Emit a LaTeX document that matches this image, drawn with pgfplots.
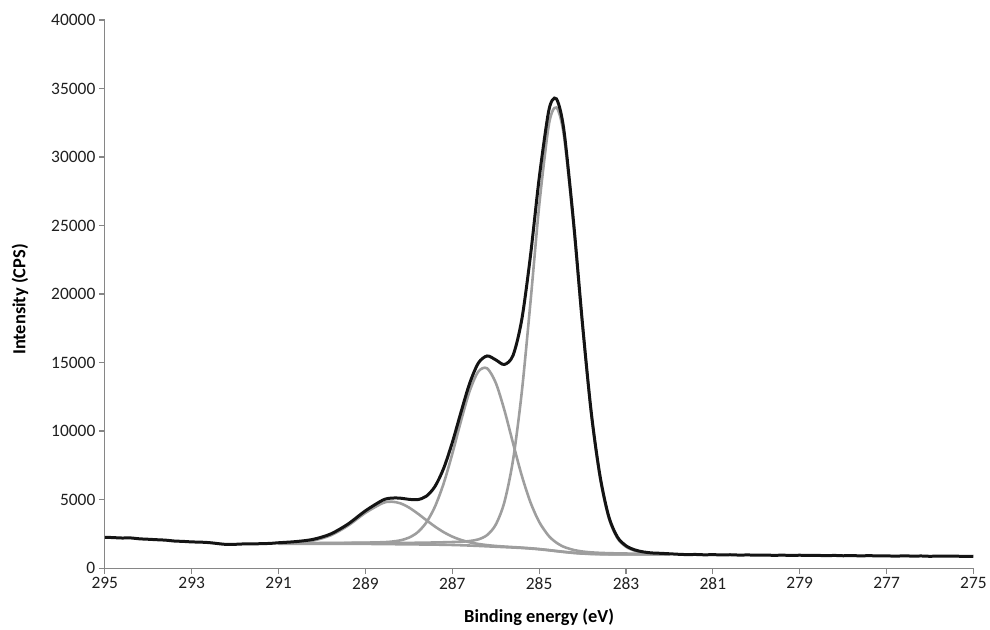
\documentclass[border=0pt]{standalone}
\usepackage{pgfplots}
\pgfplotsset{compat=1.18}
\usepackage{pgfplotstable}
\usepackage{fontspec}
\setmainfont{Carlito}
\definecolor{fitgray}{RGB}{158,158,158}
\definecolor{axgray}{RGB}{134,134,134}
\definecolor{datablk}{RGB}{20,20,20}

\pgfplotstableread{
x B C1 C2 C3
291.0 1780 1811 1812 1822
290.6 1780 1816 1818 1869
290.2 1779 1820 1825 2015
289.8 1778 1825 1834 2390
289.4 1774 1829 1844 3099
289.0 1766 1832 1858 4031
288.6 1754 1833 1889 4746
288.4 1747 1834 1931 4847
288.2 1740 1837 2023 4732
288.0 1733 1842 2219 4425
287.8 1727 1849 2609 3992
287.6 1720 1859 3317 3507
287.4 1712 1870 4475 3037
287.2 1702 1884 6162 2627
287.0 1688 1902 8332 2300
286.8 1669 1926 10730 2056
286.6 1646 1975 12915 1882
286.4 1619 2095 14344 1762
286.2 1589 2406 14579 1678
286.0 1559 3165 13531 1617
285.8 1530 4812 11529 1572
285.6 1501 7900 9103 1533
285.4 1468 12824 6753 1495
285.2 1426 19382 4803 1449
285.0 1373 26408 3375 1393
284.8 1307 31860 2429 1325
284.7 1271 33295 2101 1288
284.6 1235 33612 1851 1251
284.5 1199 32763 1658 1214
284.4 1165 30847 1513 1180
284.2 1104 24775 1320 1118
284.0 1059 17606 1210 1071
283.8 1030 11242 1148 1041
283.6 1014 6648 1112 1024
283.4 1005 3705 1090 1014
283.2 1002 2202 1074 1009
283.0 1001 1561 1064 1008
282.8 1000 1270 1050 1006
282.6 1000 1130 1042 1005
282.4 1000 1070 1036 1005
282.2 1000 1040 1030 1004
282.0 1000 1025 1025 1004
}\fitdata

\pgfplotstableread{
x y
295.0 2250
294.8 2225
294.6 2195
294.4 2200
294.2 2135
294.0 2105
293.8 2070
293.6 2040
293.4 1975
293.2 1950
293.0 1910
292.8 1895
292.6 1860
292.4 1790
292.2 1725
292.0 1735
291.8 1765
291.6 1760
291.4 1785
291.2 1800
291.0 1850
290.6 1935
290.2 2100
289.8 2490
289.4 3215
289.0 4180
288.6 4960
288.4 5110
288.2 5105
288.0 5020
287.8 4995
287.6 5240
287.4 5950
287.2 7265
287.0 9155
286.8 11370
286.6 13480
286.4 14960
286.2 15480
286.0 15200
285.8 14860
285.6 15530
285.4 18130
285.2 22780
285.0 28430
284.8 33000
284.7 34140
284.6 34240
284.5 33240
284.4 31210
284.2 25005
284.0 17770
283.8 11370
283.6 6760
283.4 3800
283.2 2280
283.0 1630
282.8 1330
282.6 1180
282.4 1105
282.2 1080
282.0 1045
281.8 1010
281.6 985
281.4 995
281.2 970
281.0 980
280.8 965
280.6 975
280.4 950
280.2 960
280.0 945
279.8 955
279.6 930
279.4 945
279.2 925
279.0 940
278.8 920
278.6 930
278.4 905
278.2 925
278.0 900
277.8 915
277.6 890
277.4 910
277.2 885
277.0 895
276.8 870
276.6 895
276.4 875
276.2 885
276.0 860
275.8 880
275.6 865
275.4 870
275.2 855
275.0 865
}\rawdata

\begin{document}
\begin{tikzpicture}
\path (-105bp,-61bp) rectangle (885bp,569bp);
\begin{axis}[
  at={(0,0)}, anchor=south west,
  scale only axis,
  width=870bp, height=549bp,
  x dir=reverse,
  xmin=275, xmax=295,
  ymin=0, ymax=40000,
  xtick={275,277,...,295},
  ytick={0,5000,...,40000},
  scaled y ticks=false,
  scaled x ticks=false,
  axis x line*=bottom,
  axis y line*=left,
  axis line style={axgray, line width=1.2bp},
  tick style={axgray, line width=1.2bp},
  tick align=outside,
  major tick length=6bp,
  /pgf/number format/assume math mode=true,
  /pgf/number format/1000 sep={},
  tick label style={font=\fontsize{17.5}{21}\selectfont, text=black!88},
  xlabel={Binding energy (eV)},
  ylabel={Intensity (CPS)},
  label style={font=\bfseries\fontsize{18.5}{21}\selectfont},
  xlabel style={at={(axis description cs:0.5,-0.0893)}, anchor=center},
  ylabel style={at={(axis description cs:-0.0977,0.49)}, anchor=center},
  clip=false,
]
\addplot[fitgray, line width=2.6bp, smooth, tension=0.5] table[x=x, y=B] {\fitdata};
\addplot[fitgray, line width=2.6bp, smooth, tension=0.5] table[x=x, y=C3] {\fitdata};
\addplot[fitgray, line width=2.6bp, smooth, tension=0.5] table[x=x, y=C2] {\fitdata};
\addplot[fitgray, line width=2.6bp, smooth, tension=0.5] table[x=x, y=C1] {\fitdata};
\addplot[datablk, line width=3bp, smooth, tension=0.5] table[x=x, y=y] {\rawdata};
\end{axis}
\end{tikzpicture}
\end{document}
